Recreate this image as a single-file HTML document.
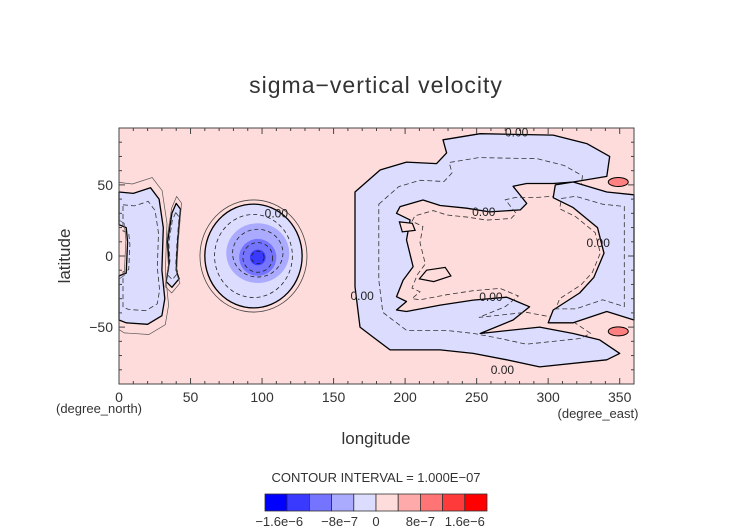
<!DOCTYPE html>
<html><head><meta charset="utf-8">
<style>
html,body{margin:0;padding:0;background:#fff;}
svg{display:block;font-family:"Liberation Sans",sans-serif;}
</style></head>
<body>
<svg id="chart" width="752" height="532" viewBox="0 0 752 532" xmlns="http://www.w3.org/2000/svg">
<text x="376" y="93" text-anchor="middle" font-size="23" fill="#333" letter-spacing="1">sigma−vertical velocity</text>
<g id="plot"></g>
<g id="axes"></g>
<text x="70" y="256" text-anchor="middle" font-size="17" fill="#333" transform="rotate(-90 70 256)">latitude</text>
<text x="376" y="444" text-anchor="middle" font-size="17" fill="#333">longitude</text>
<text x="99" y="413" text-anchor="middle" font-size="13" fill="#333">(degree_north)</text>
<text x="598" y="418" text-anchor="middle" font-size="13" fill="#333">(degree_east)</text>
<text x="376" y="482" text-anchor="middle" font-size="13" fill="#333">CONTOUR INTERVAL = 1.000E−07</text>
<g id="cbar"></g>
</svg>
<script>
const NS="http://www.w3.org/2000/svg";
const xTicks=[0,50,100,150,200,250,300,350];
const yTicks=[-50,0,50];
const cbColors=["#0000ff","#3a3aff","#7474ff","#aaaaff","#dcdcff","#ffdcdc","#ffaaaa","#ff7474","#ff3a3a","#ff0000"];
const cbLabels=["−1.6e−6","−8e−7","0","8e−7","1.6e−6"];
const cbLabelPos=[1,3,5,7,9];
const regionLeft=[[0,45],[10,44],[22,48],[28,40],[31,20],[30,-10],[32,-30],[30,-42],[20,-48],[5,-47],[0,-45],[0,-14],[5,-12],[6,10],[5,20],[0,22]];
const regionStrip=[[40,37],[43,33],[41,10],[40,-10],[42,-16],[37,-22],[33,-18],[35,-5],[34,10],[37,30]];
const regionBig=[[165,45],[182.5,60.5],[201,66],[222,65],[229,72.5],[226.5,81.7],[252.5,86],[303.5,85],[327,79],[343,70],[341,56],[317.5,52],[303.5,51],[285,51],[275.5,49],[285,37],[280.5,32.4],[259,31],[243,33.6],[224.5,35.5],[212.5,39.4],[196.5,34.7],[194,30],[203.5,25.4],[201,11.3],[205.6,-7.5],[198.6,-17],[194,-28.6],[201,-32],[194,-38],[201,-39],[224.5,-34.5],[247.6,-31],[271,-29],[287,-35.7],[275.5,-45],[252.5,-54.5],[294,-50],[317.5,-54.5],[336,-59],[350,-68.5],[341,-73],[294,-78],[271,-73],[247.6,-68.5],[224.5,-66],[189.5,-66],[177.6,-57],[168.5,-50],[165,-21.6]];
const regionRight=[[305,50],[317.5,52],[341,45],[360,43],[360,-45],[341,-39],[317.5,-47],[300,-47],[303.5,-38],[322,-26],[332,-15],[339,2],[334.5,20],[317.5,34],[303.5,41]];
const islands=[[[196,24],[205,23],[207,18],[198,17]],[[215,-10],[228,-8],[232,-14],[220,-18],[210,-16]]];
const vortexLon=[94,97,97,97];
const vortexLat=[0,2,-1,-1];
const vortexRLon=[34,22,13,5.5];
const vortexRLat=[36.5,21,13,5.5];
const vortexColor=[4,3,2,1];
const spotLon=[349,349];
const spotLat=[52,-53];
const spotR=[5,5];

const X0=119,X1=634,Y0=128,Y1=384;
const sx=l=>X0+(l/360)*(X1-X0);
const sy=a=>Y0+((90-a)/180)*(Y1-Y0);
const plot=document.getElementById('plot');
function mk(tag,attrs,parent){const e=document.createElementNS(NS,tag);for(const k in attrs)e.setAttribute(k,attrs[k]);(parent||plot).appendChild(e);return e;}
function poly(pts){return 'M'+pts.map(p=>sx(p[0]).toFixed(1)+','+sy(p[1]).toFixed(1)).join(' L')+' Z';}

let bg=mk('rect',{x:X0,y:Y0,width:X1-X0,height:Y1-Y0,fill:"#ffdcdc"});



const regions=[regionLeft,regionStrip,regionBig,regionRight];
const rnames=['neg-region-west','neg-region-strip','neg-region-east','neg-region-far-east'];
regions.forEach((r,i)=>{
  const p=mk('path',{d:poly(r),fill:"#dcdcff",stroke:"#000","stroke-width":1.3,"stroke-linejoin":"round"});
  
  
  const c=[r.reduce((s,q)=>s+q[0],0)/r.length,r.reduce((s,q)=>s+q[1],0)/r.length];
  const inner=r.map(q=>[c[0]+(q[0]-c[0])*0.8,c[1]+(q[1]-c[1])*0.8]);
  const d=mk('path',{d:poly(inner),fill:"none",stroke:"#333","stroke-width":0.8,"stroke-dasharray":"5,3"});
  
  
});
islands.forEach(r=>{
  const p=mk('path',{d:poly(r),fill:"#ffdcdc",stroke:"#000","stroke-width":1.2});
  
  
});
[regionLeft,regionStrip].forEach(r=>{
  const c=[r.reduce((s,q)=>s+q[0],0)/r.length,r.reduce((s,q)=>s+q[1],0)/r.length];
  const outer=r.map(q=>[Math.max(0,Math.min(360,c[0]+(q[0]-c[0])*1.15)),Math.max(-90,Math.min(90,c[1]+(q[1]-c[1])*1.15))]);
  const p=mk('path',{d:poly(outer),fill:"none",stroke:"#555","stroke-width":0.7});
  
  
});
vortexLon.forEach((l,i)=>{
  const e=mk('ellipse',{cx:sx(l),cy:sy(vortexLat[i]),rx:vortexRLon[i]*(X1-X0)/360,ry:vortexRLat[i]*(Y1-Y0)/180,fill:cbColors[vortexColor[i]],stroke:i==0?"#000":"none","stroke-width":1.3});
  
  
  const d=mk('ellipse',{cx:sx(l),cy:sy(vortexLat[i]),rx:vortexRLon[i]*0.8*(X1-X0)/360,ry:vortexRLat[i]*0.8*(Y1-Y0)/180,fill:"none",stroke:"#222","stroke-width":0.8,"stroke-dasharray":"4,3"});
  
  
});
const ring=mk('ellipse',{cx:sx(vortexLon[0]),cy:sy(vortexLat[0]),rx:vortexRLon[0]*1.1*(X1-X0)/360,ry:vortexRLat[0]*1.08*(Y1-Y0)/180,fill:"none",stroke:"#444","stroke-width":0.8});


spotLon.forEach((l,i)=>{
  const e=mk('ellipse',{cx:sx(l),cy:sy(spotLat[i]),rx:spotR[i]*2,ry:spotR[i]*0.9,fill:"#ff8080",stroke:"#000","stroke-width":1});
  
  
});
const labs=[[278,87],[268,-80],[255,31],[260,-29],[110,30],[170,-28],[335,9]];
labs.forEach(p=>{
  const t=mk('text',{x:sx(p[0]),y:sy(p[1])+4,"font-size":12,fill:"#222","text-anchor":"middle"});
  t.textContent="0.00";
  
  
});

const ax=document.getElementById('axes');
const fr=mk('rect',{x:X0,y:Y0,width:X1-X0,height:Y1-Y0,fill:"none",stroke:"#444","stroke-width":1},ax);


for(let l=0;l<=360;l+=10){
  const len=(l%50==0)?6:3;
  mk('line',{x1:sx(l),x2:sx(l),y1:Y1,y2:Y1-len,stroke:"#444"},ax);
  mk('line',{x1:sx(l),x2:sx(l),y1:Y0,y2:Y0+len,stroke:"#444"},ax);
}
for(let a=-90;a<=90;a+=10){
  const len=(a%50==0)?6:3;
  mk('line',{x1:X0,x2:X0+len,y1:sy(a),y2:sy(a),stroke:"#444"},ax);
  mk('line',{x1:X1,x2:X1-len,y1:sy(a),y2:sy(a),stroke:"#444"},ax);
}
xTicks.forEach(v=>{
  const t=mk('text',{x:sx(v),y:Y1+18,"font-size":14,fill:"#333","text-anchor":"middle"},ax);
  t.textContent=v;
  
  
});
yTicks.forEach(v=>{
  const t=mk('text',{x:X0-6,y:sy(v)+5,"font-size":14,fill:"#333","text-anchor":"end"},ax);
  t.textContent=v<0?"−"+(-v):v;
  
  
});
const cb=document.getElementById('cbar');
const CB0=265,CBW=22.2,CBY=494,CBH=17;
cbColors.forEach((c,i)=>{
  const r=mk('rect',{x:CB0+i*CBW,y:CBY,width:CBW,height:CBH,fill:c,stroke:"#333","stroke-width":0.8},cb);
  
  
});
cbLabels.forEach((s,i)=>{
  const t=mk('text',{x:CB0+cbLabelPos[i]*CBW+(i==0?-8:i==1?8:0),y:526,"font-size":13,fill:"#333","text-anchor":"middle"},cb);
  t.textContent=s;
  
  
});
</script>
</body></html>
